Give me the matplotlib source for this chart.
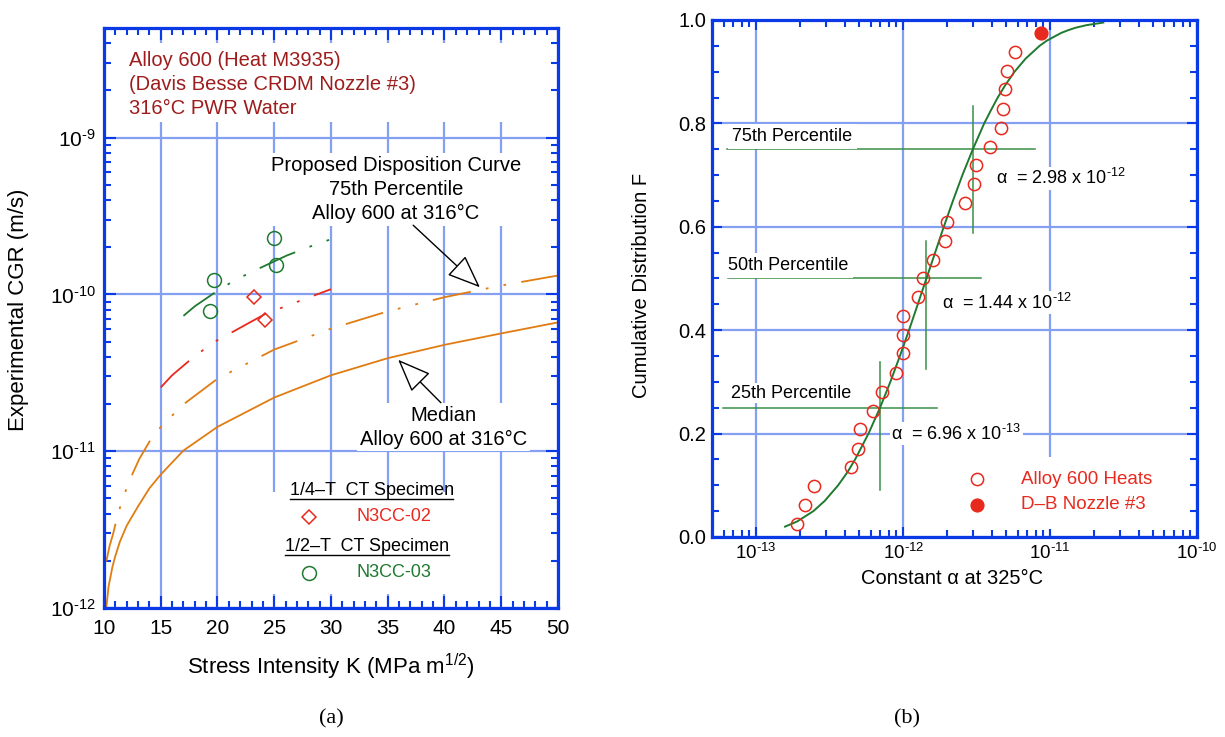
import numpy as np
import matplotlib
matplotlib.use("Agg")
import matplotlib.pyplot as plt
from matplotlib.ticker import MultipleLocator, LogLocator, FuncFormatter, NullFormatter
from matplotlib.patches import Rectangle
from matplotlib.lines import Line2D

plt.rcParams['font.family'] = ['Liberation Sans', 'DejaVu Sans']
plt.rcParams['mathtext.fontset'] = 'custom'
plt.rcParams['mathtext.rm'] = 'Liberation Sans'
plt.rcParams['mathtext.it'] = 'Liberation Sans:italic'
plt.rcParams['mathtext.default'] = 'regular'
plt.rcParams['lines.scale_dashes'] = False

# ---------------- data: panel (a) ----------------
K_median = [10.2, 10.4, 10.6, 10.75, 11, 11.4, 12, 13, 14, 15, 17, 20, 25, 30, 35, 40, 45, 50]
cgr_median = [1.0e-12, 1.37e-12, 1.62e-12, 1.84e-12, 2.15e-12, 2.65e-12, 3.35e-12,
              4.45e-12, 5.8e-12, 7.1e-12, 1.01e-11, 1.43e-11, 2.2e-11, 3.05e-11,
              3.92e-11, 4.77e-11, 5.64e-11, 6.63e-11]
K_p75 = [10.2, 10.5, 10.8, 11.2, 11.5, 12.2, 13.1, 14, 15, 17, 20, 25, 30, 35, 40, 45, 50]
cgr_p75 = [1.98e-12, 2.5e-12, 2.97e-12, 3.9e-12, 4.6e-12, 6.4e-12, 8.9e-12, 1.15e-11,
           1.43e-11, 1.99e-11, 2.9e-11, 4.45e-11, 6.05e-11, 7.8e-11, 9.6e-11,
           1.14e-10, 1.32e-10]
K_fit02 = [15, 16, 17.5, 19.5, 21.4, 24.2, 27.6, 30]
cgr_fit02 = [2.55e-11, 3.05e-11, 3.77e-11, 4.88e-11, 5.8e-11, 7.5e-11, 9.3e-11, 1.08e-10]
K_fit03 = [17, 18, 19.7, 21.5, 23.45, 26.1, 28, 30]
cgr_fit03 = [7.3e-11, 8.4e-11, 1.02e-10, 1.23e-10, 1.44e-10, 1.77e-10, 2.0e-10, 2.25e-10]
K_n3cc02 = [23.2, 24.2]
cgr_n3cc02 = [9.66e-11, 6.89e-11]
K_n3cc03 = [19.72, 19.34, 24.97, 25.17]
cgr_n3cc03 = [1.24e-10, 7.8e-11, 2.29e-10, 1.54e-10]
x_ticks_a = [10, 15, 20, 25, 30, 35, 40, 45, 50]

# ---------------- data: panel (b) ----------------
heats_alpha = [1.9e-13, 2.16e-13, 2.49e-13, 4.39e-13, 4.96e-13, 5.11e-13, 6.25e-13,
               7.15e-13, 8.96e-13, 0.99e-12, 0.99e-12, 1.0e-12, 1.27e-12, 1.36e-12,
               1.6e-12, 1.92e-12, 1.98e-12, 2.62e-12, 3.02e-12, 3.15e-12, 3.87e-12,
               4.6e-12, 4.8e-12, 4.92e-12, 5.05e-12, 5.8e-12]
heats_F = [0.026, 0.062, 0.099, 0.135, 0.171, 0.208, 0.244, 0.281, 0.318, 0.355,
           0.391, 0.427, 0.464, 0.500, 0.536, 0.573, 0.609, 0.646, 0.682, 0.719,
           0.755, 0.792, 0.828, 0.866, 0.901, 0.938]
nozzle_alpha = [8.7e-12]
nozzle_F = [0.974]
fit_alpha = [1.57e-13, 1.9e-13, 2.45e-13, 2.93e-13, 3.61e-13, 4.17e-13, 4.71e-13,
             5.81e-13, 6.96e-13, 8.18e-13, 9.5e-13, 1.096e-12, 1.257e-12, 1.44e-12,
             1.65e-12, 1.89e-12, 2.18e-12, 2.53e-12, 2.98e-12, 3.56e-12, 3.95e-12,
             4.4e-12, 4.98e-12, 5.73e-12, 6.8e-12, 8.48e-12, 9.5e-12, 1.19e-11,
             1.32e-11, 1.49e-11, 1.77e-11, 2.3e-11]
fit_F = [0.02, 0.03, 0.05, 0.07, 0.10, 0.125, 0.15, 0.20, 0.25, 0.30, 0.35, 0.40,
         0.45, 0.50, 0.55, 0.60, 0.65, 0.70, 0.75, 0.80, 0.825, 0.85, 0.875, 0.90,
         0.925, 0.95, 0.96, 0.975, 0.98, 0.985, 0.99, 0.995]
pct_F = [0.25, 0.50, 0.75]
pct_alpha = [6.96e-13, 1.44e-12, 2.98e-12]
pct_hline_left = [5.97e-14, 6.4e-14, 6.35e-14]
pct_hline_right = [1.71e-12, 3.39e-12, 7.86e-12]
pct_vline_F = [(0.091, 0.339), (0.325, 0.573), (0.587, 0.834)]
pct_names = ["25th Percentile", "50th Percentile", "75th Percentile"]
pct_labels = ["6.96 x 10$^{\u2010 13}$", "1.44 x 10$^{\u2010 12}$", "2.98 x 10$^{\u2010 12}$"]


def pow_label(v, pos):
    e = int(round(np.log10(v)))
    if e < 0:
        return r'$10^{%s%d}$' % ('\u2010', -e)
    return r'$10^{%d}$' % e


# ---------------- style ----------------
BLUE = '#0a3ae6'
GRID = '#83a0f2'
ORANGE = '#e07c12'
RED = '#e8291d'
GREEN = '#1f7a30'
LGREEN = '#3a8f48'
DARKRED = '#9e1c1c'
PATTERN = (0, (28, 11, 2, 11, 2, 11))

fig = plt.figure(figsize=(12.25, 7.37), dpi=100)
ax1 = fig.add_axes([0.0849, 0.175, 0.3706, 0.787])
ax2 = fig.add_axes([0.5812, 0.2714, 0.396, 0.7015])

for ax in (ax1, ax2):
    for s in ax.spines.values():
        s.set_color(BLUE)
        s.set_linewidth(2.3)
    ax.set_axisbelow(True)

# ======== panel (a) ========
ax1.set_yscale('log')
ax1.set_xlim(10, 50)
ax1.set_ylim(1e-12, 5e-9)
ax1.xaxis.set_major_locator(MultipleLocator(5))
ax1.xaxis.set_minor_locator(MultipleLocator(1))
ax1.set_xticks(x_ticks_a)
ax1.yaxis.set_major_locator(LogLocator(base=10, numticks=10))
ax1.yaxis.set_minor_locator(LogLocator(base=10, subs=np.arange(2, 10), numticks=20))
ax1.yaxis.set_major_formatter(FuncFormatter(pow_label))
ax1.yaxis.set_minor_formatter(NullFormatter())
ax1.tick_params(which='both', direction='in', top=True, right=True, colors=BLUE,
                labelcolor='black', labelsize=15, width=1.5)
ax1.tick_params(which='major', length=8.6)
ax1.tick_params(which='minor', length=5)
ax1.tick_params(axis='x', pad=8)
ax1.tick_params(axis='y', pad=6)
ax1.grid(True, which='major', color=GRID, lw=1.6)

ax1.set_xlabel('Stress Intensity K (MPa m$^{1/2}$)', fontsize=16)
ax1.set_ylabel('Experimental CGR (m/s)', fontsize=16)
ax1.xaxis.set_label_coords(0.5, -0.075)
ax1.yaxis.set_label_coords(-0.165, 0.514)

# white areas behind the text blocks
ax1.add_patch(Rectangle((0.02, 0.838), 0.94, 0.136, transform=ax1.transAxes,
                        fc='white', ec='none', zorder=1))
ax1.add_patch(Rectangle((0.333, 0.024), 0.473, 0.176, transform=ax1.transAxes,
                        fc='white', ec='none', zorder=1))

ax1.plot(K_median, cgr_median, color=ORANGE, lw=1.3, zorder=2)
ax1.plot(K_p75, cgr_p75, color=ORANGE, lw=1.3, ls=PATTERN, zorder=2)
ax1.plot(K_fit02, cgr_fit02, color=RED, lw=1.3, ls=PATTERN, zorder=2)
ax1.plot(K_fit03, cgr_fit03, color=GREEN, lw=1.3, ls=PATTERN, zorder=2)
ax1.plot(K_n3cc02, cgr_n3cc02, ls='none', marker='D', ms=7.5, mfc='none',
         mec=RED, mew=1.1, zorder=3)
ax1.plot(K_n3cc03, cgr_n3cc03, ls='none', marker='o', ms=10, mfc='none',
         mec=GREEN, mew=1.1, zorder=3)

ax1.text(0.055, 0.902, "Alloy 600 (Heat M3935)\n(Davis Besse CRDM Nozzle #3)\n316°C PWR Water",
         transform=ax1.transAxes, color=DARKRED, fontsize=14.5, ha='left', va='center',
         linespacing=1.33)
bb = dict(fc='white', ec='none', pad=2)
ax1.text(0.643, 0.722, "Proposed Disposition Curve\n75th Percentile\nAlloy 600 at 316°C",
         transform=ax1.transAxes, fontsize=14.5, ha='center', va='center',
         multialignment='center', linespacing=1.33, bbox=bb, zorder=1.5)
ax1.text(0.747, 0.312, "Median\nAlloy 600 at 316°C", transform=ax1.transAxes,
         fontsize=14.5, ha='center', va='center', multialignment='center',
         linespacing=1.33, bbox=bb, zorder=1.5)
arrow = dict(arrowstyle='-|>,head_length=1.0,head_width=0.4', fc='white', ec='black',
             lw=1.0, mutation_scale=21, shrinkA=0, shrinkB=0)
ax1.annotate('', xy=(0.828, 0.553), xytext=(0.681, 0.660), xycoords='axes fraction',
             textcoords='axes fraction', arrowprops=arrow, zorder=4)
ax1.annotate('', xy=(0.648, 0.428), xytext=(0.742, 0.354), xycoords='axes fraction',
             textcoords='axes fraction', arrowprops=arrow, zorder=4)

# legend block (a)
ax1.text(0.590, 0.202, "1/4\u2013T  CT Specimen", transform=ax1.transAxes, fontsize=13,
         ha='center', va='center')
ax1.add_line(Line2D([0.410, 0.769], [0.188, 0.188], transform=ax1.transAxes, color='black', lw=1.0))
ax1.plot([0.452], [0.157], transform=ax1.transAxes, marker='D', ms=7.5, mfc='none',
         mec=RED, mew=1.1, ls='none')
ax1.text(0.557, 0.157, "N3CC-02", transform=ax1.transAxes, fontsize=13, color=RED,
         ha='left', va='center')
ax1.text(0.579, 0.106, "1/2\u2013T  CT Specimen", transform=ax1.transAxes, fontsize=13,
         ha='center', va='center')
ax1.add_line(Line2D([0.399, 0.760], [0.0915, 0.0915], transform=ax1.transAxes, color='black', lw=1.0))
ax1.plot([0.452], [0.061], transform=ax1.transAxes, marker='o', ms=10, mfc='none',
         mec=GREEN, mew=1.1, ls='none')
ax1.text(0.557, 0.061, "N3CC-03", transform=ax1.transAxes, fontsize=13, color=GREEN,
         ha='left', va='center')

# ======== panel (b) ========
ax2.set_xscale('log')
ax2.set_xlim(5e-14, 1e-10)
ax2.set_ylim(0, 1.0)
ax2.xaxis.set_major_locator(LogLocator(base=10, numticks=10))
ax2.xaxis.set_minor_locator(LogLocator(base=10, subs=np.arange(2, 10), numticks=20))
ax2.xaxis.set_major_formatter(FuncFormatter(pow_label))
ax2.xaxis.set_minor_formatter(NullFormatter())
ax2.yaxis.set_major_locator(MultipleLocator(0.2))
ax2.yaxis.set_minor_locator(MultipleLocator(0.05))
ax2.yaxis.set_major_formatter(FuncFormatter(lambda v, p: '%.1f' % v))
ax2.tick_params(which='both', direction='in', top=True, right=True, colors=BLUE,
                labelcolor='black', labelsize=14.5, width=1.5)
ax2.tick_params(axis='x', labelsize=13.5)
ax2.tick_params(which='major', length=7)
ax2.tick_params(which='minor', length=5)
ax2.tick_params(axis='x', pad=4)
ax2.tick_params(axis='y', pad=4)
ax2.grid(True, which='major', color=GRID, lw=1.6)
ax2.set_xlabel('Constant \u03b1 at 325°C', fontsize=14.5)
ax2.set_ylabel('Cumulative Distribution F', fontsize=14.5)
ax2.xaxis.set_label_coords(0.495, -0.062)
ax2.yaxis.set_label_coords(-0.125, 0.487)

ax2.add_patch(Rectangle((0.511, 0.016), 0.444, 0.139, transform=ax2.transAxes,
                        fc='white', ec='none', zorder=1))

for F, a, xl, xr, (v0, v1) in zip(pct_F, pct_alpha, pct_hline_left, pct_hline_right, pct_vline_F):
    ax2.plot([xl, xr], [F, F], color=LGREEN, lw=1.1, zorder=2)
    ax2.plot([a, a], [v0, v1], color=LGREEN, lw=1.1, zorder=2)

ax2.plot(fit_alpha, fit_F, color=GREEN, lw=1.4, zorder=2.5)
ax2.plot(heats_alpha, heats_F, ls='none', marker='o', ms=8.8, mfc='none', mec=RED,
         mew=1.1, zorder=3)
ax2.plot(nozzle_alpha, nozzle_F, ls='none', marker='o', ms=9.2, mfc=RED, mec=RED, zorder=3)

bb2 = dict(fc='white', ec='none', pad=3)
bb3 = dict(fc='white', ec='none', pad=1)
name_pos = [(0.039, 0.278), (0.034, 0.525), (0.042, 0.774)]
val_pos = [(0.370, 0.200), (0.474, 0.453), (0.585, 0.694)]
for i, (nm, lab) in enumerate(zip(pct_names, pct_labels)):
    ax2.text(name_pos[i][0], name_pos[i][1], nm, transform=ax2.transAxes, fontsize=13,
             ha='left', va='center', bbox=bb3 if i == 0 else bb2, zorder=2.7)
    ax2.text(val_pos[i][0], val_pos[i][1], "\u03b1  = " + lab, transform=ax2.transAxes,
             fontsize=13, ha='left', va='center', bbox=bb3, zorder=2.7)

ax2.plot([0.546], [0.112], transform=ax2.transAxes, marker='o', ms=8.8, mfc='none',
         mec=RED, mew=1.1, ls='none', zorder=3)
ax2.plot([0.546], [0.062], transform=ax2.transAxes, marker='o', ms=9.2, mfc=RED,
         mec=RED, ls='none', zorder=3)
ax2.text(0.637, 0.112, "Alloy 600 Heats", transform=ax2.transAxes, fontsize=13.5,
         color=RED, ha='left', va='center', zorder=3)
ax2.text(0.637, 0.062, "D\u2013B Nozzle #3", transform=ax2.transAxes, fontsize=13.5,
         color=RED, ha='left', va='center', zorder=3)

fig.text(331 / 1225, 1 - 719 / 737, "(a)", family=['Liberation Serif', 'DejaVu Serif'],
         fontsize=16, ha='center', va='center')
fig.text(907 / 1225, 1 - 719 / 737, "(b)", family=['Liberation Serif', 'DejaVu Serif'],
         fontsize=16, ha='center', va='center')

fig.savefig('out.png', dpi=100)
